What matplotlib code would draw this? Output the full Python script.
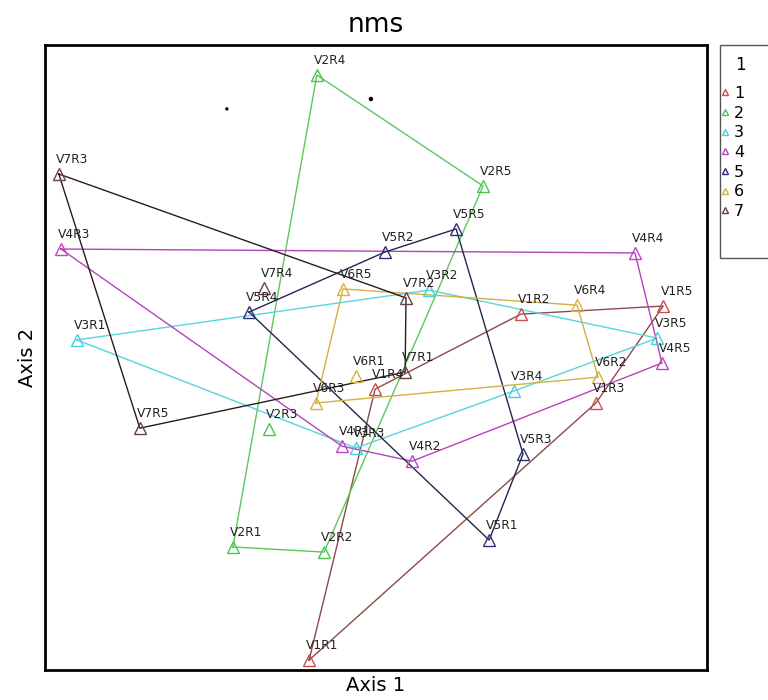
import matplotlib
matplotlib.use("Agg")
import matplotlib.pyplot as plt
from matplotlib.patches import Rectangle
import numpy as np

# NMS scores per group (Axis 1, Axis 2), replicates R1..R5
GROUPS = ["1", "2", "3", "4", "5", "6", "7"]
AXIS1 = {
    "1": [-0.223, 0.483, 0.733, -0.003, 0.957],
    "2": [-0.477, -0.173, -0.357, -0.197, 0.357],
    "3": [-0.997, 0.177, -0.067, 0.460, 0.937],
    "4": [-0.113, 0.120, -1.050, 0.863, 0.953],
    "5": [0.377, 0.030, 0.490, -0.423, 0.267],
    "6": [-0.067, 0.740, -0.200, 0.670, -0.110],
    "7": [0.097, 0.100, -1.057, -0.373, -0.787],
}
AXIS2 = {
    "1": [-1.010, 0.143, -0.153, -0.107, 0.170],
    "2": [-0.633, -0.650, -0.240, 0.940, 0.570],
    "3": [0.057, 0.223, -0.303, -0.113, 0.063],
    "4": [-0.297, -0.347, 0.360, 0.347, -0.020],
    "5": [-0.610, 0.350, -0.323, 0.150, 0.427],
    "6": [-0.063, -0.067, -0.153, 0.173, 0.227],
    "7": [-0.050, 0.197, 0.610, 0.230, -0.237],
}
STRAY_X = [-0.497, -0.017]
STRAY_Y = [0.827, 0.860]

MARKER_COLORS = ["#c8504a", "#4cc44c", "#44d0dc", "#c044c8", "#303078", "#d8b040", "#6a4040"]
LINE_COLORS = ["#8c4a48", "#5cc85c", "#55d5e0", "#b444bc", "#252550", "#d4b040", "#2a1c1c"]


def hull(pts):
    # monotone chain convex hull
    pts = sorted(map(tuple, pts))

    def cross(o, a, b):
        return (a[0] - o[0]) * (b[1] - o[1]) - (a[1] - o[1]) * (b[0] - o[0])

    lower, upper = [], []
    for p in pts:
        while len(lower) >= 2 and cross(lower[-2], lower[-1], p) <= 0:
            lower.pop()
        lower.append(p)
    for p in reversed(pts):
        while len(upper) >= 2 and cross(upper[-2], upper[-1], p) <= 0:
            upper.pop()
        upper.append(p)
    return np.array(lower[:-1] + upper[:-1])


fig = plt.figure(figsize=(7.68, 7.0), dpi=100)
ax = fig.add_axes([45 / 768, 30 / 700, 662 / 768, 625 / 700])

for i, g in enumerate(GROUPS):
    x = np.array(AXIS1[g])
    y = np.array(AXIS2[g])
    h = hull(np.column_stack([x, y]))
    h = np.vstack([h, h[:1]])
    ax.plot(h[:, 0], h[:, 1], color=LINE_COLORS[i], lw=1.0, zorder=1)
    ax.plot(x, y, ls="none", marker="^", ms=8, mfc="none", mec=MARKER_COLORS[i],
            mew=1.0, label=g, zorder=2)
    for r, (xx, yy) in enumerate(zip(x, y)):
        ax.annotate(f"V{g}R{r + 1}", (xx, yy), xytext=(-2, 6), textcoords="offset points",
                    ha="left", va="bottom", fontsize=8.8, color="#222222", zorder=3)

ax.scatter(STRAY_X, STRAY_Y, s=[2, 5], color="black", zorder=2)

ax.set_xlim(-1.103, 1.103)
ax.set_ylim(-1.043, 1.04)
ax.set_xticks([])
ax.set_yticks([])
for s in ax.spines.values():
    s.set_linewidth(2)

ax.set_title("nms", fontsize=19, pad=9)
ax.set_xlabel("Axis 1", fontsize=14, labelpad=4)
ax.set_ylabel("Axis 2", fontsize=14, labelpad=6)

# legend box drawn by hand so it can run past the right edge like the original
fig.patches.append(Rectangle((720 / 768, 1 - 258 / 700), 60 / 768, 213 / 700,
                             transform=fig.transFigure, fill=False, ec="#555555", lw=1))
fig.text(740 / 768, 1 - 65 / 700, "1", fontsize=12, ha="center", va="center")
leg = ax.legend(loc="upper left", bbox_to_anchor=(721 / 768, 1 - 86 / 700),
                bbox_transform=fig.transFigure, fontsize=11.5, frameon=False,
                handlelength=0.5, handletextpad=0.3, labelspacing=0.29,
                borderaxespad=0, borderpad=0, markerscale=0.6)

fig.savefig("out.png", dpi=100)
